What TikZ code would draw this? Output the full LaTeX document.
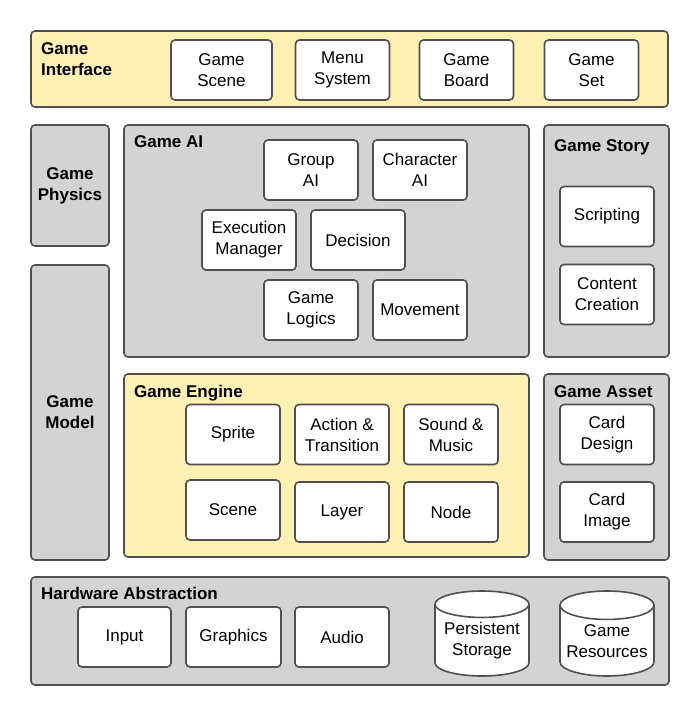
\documentclass[tikz,border=0pt]{standalone}
\usepackage{fontspec}
\setmainfont{Liberation Sans}
\usepackage{xcolor}
\usetikzlibrary{shapes.geometric, positioning}

\definecolor{panelgray}{HTML}{D3D3D3}
\definecolor{panelyellow}{HTML}{FFF0B3}
\definecolor{edgegray}{HTML}{4F4F4F}

\tikzset{
    panel/.style={draw=edgegray, line width=1.6pt, rounded corners=4pt, fill=panelgray, inner sep=0pt},
    ypanel/.style={panel, fill=panelyellow},
    item/.style={draw=edgegray, line width=1.6pt, rounded corners=4pt, fill=white,
        minimum width=94pt, minimum height=60pt, align=center, inner sep=0pt,
        font=\fontsize{17}{21}\selectfont},
    store/.style={cylinder, shape border rotate=90, aspect=0.35, draw=edgegray, line width=1.6pt,
        fill=white, minimum width=94pt, minimum height=85pt, align=center, inner sep=0pt,
        anchor=shape center, font=\fontsize{17}{21}\selectfont},
    title/.style={font=\bfseries\fontsize{17}{21}\selectfont, align=left, inner sep=0pt}
}

\begin{document}
\begin{tikzpicture}[x=1pt, y=-1pt]
        \useasboundingbox (0,0) rectangle (700,716);

        % ===================================================
        % 1. GAME INTERFACE (top strip)
        % ===================================================
        \node[ypanel, minimum width=637pt, minimum height=76pt] (gInterface) at (349.5, 69) {};
        \node[title, anchor=north west] at (41, 42) {Game\\Interface};

        \node[item, minimum width=101pt] (iScene) at (221.5, 70) {Game\\Scene};
        \node[item] (iMenu)  at (342.5, 70) {Menu\\System};
        \node[item] (iBoard) at (466.5, 70) {Game\\Board};
        \node[item] (iSet)   at (591.5, 70) {Game\\Set};

        % ===================================================
        % 2. LEFT COLUMN: PHYSICS & MODEL
        % ===================================================
        \node[panel, minimum width=78pt, minimum height=121pt, title, align=center] (gPhysics) at (70, 185.5) {Game\\Physics};
        \node[panel, minimum width=78pt, minimum height=295pt, title, align=center] (gModel) at (70, 412.5) {Game\\Model};

        % ===================================================
        % 3. GAME AI
        % ===================================================
        \node[panel, minimum width=405pt, minimum height=232pt] (gAI) at (326.5, 241) {};
        \node[title, anchor=north west] at (134, 135) {Game AI};

        \node[item] (aGroup) at (311, 170) {Group\\AI};
        \node[item] (aChar)  at (420, 170) {Character\\AI};
        \node[item] (aExec)  at (249, 240) {Execution\\Manager};
        \node[item] (aDecis) at (358, 240) {Decision};
        \node[item] (aLogic) at (311, 310) {Game\\Logics};
        \node[item] (aMove)  at (420, 310) {Movement};

        % ===================================================
        % 4. GAME STORY
        % ===================================================
        \node[panel, minimum width=125pt, minimum height=232pt] (gStory) at (606.5, 241) {};
        \node[title, anchor=north west] at (554, 139) {Game Story};

        \node[item] (sScript)  at (607, 216.5) {Scripting};
        \node[item] (sContent) at (607, 294.5) {Content\\Creation};

        % ===================================================
        % 5. GAME ENGINE
        % ===================================================
        \node[ypanel, minimum width=405pt, minimum height=183pt] (gEngine) at (326.5, 465.5) {};
        \node[title, anchor=north west] at (134, 385) {Game Engine};

        \node[item] (eSprite) at (233, 434.5) {Sprite};
        \node[item] (eAction) at (342, 434.5) {Action \&\\Transition};
        \node[item] (eSound)  at (451, 434.5) {Sound \&\\Music};
        \node[item] (eScene)  at (233, 510) {Scene};
        \node[item] (eLayer)  at (342, 512) {Layer};
        \node[item] (eNode)   at (451, 512) {Node};

        % ===================================================
        % 6. GAME ASSET
        % ===================================================
        \node[panel, minimum width=125pt, minimum height=186pt] (gAsset) at (606.5, 467) {};
        \node[title, anchor=north west] at (554, 385) {Game Asset};

        \node[item] (cDesign) at (607, 434.5) {Card\\Design};
        \node[item] (cImage)  at (607, 512) {Card\\Image};

        % ===================================================
        % 7. HARDWARE ABSTRACTION (bottom strip)
        % ===================================================
        \node[panel, minimum width=638pt, minimum height=108pt] (gHardware) at (350, 631) {};
        \node[title, anchor=north west] at (41, 587) {Hardware Abstraction};

        \node[item, minimum width=93pt] (hInput)  at (124.5, 637) {Input};
        \node[item, minimum width=95pt] (hGraph)  at (233.5, 637) {Graphics};
        \node[item] (hAudio) at (342, 637) {Audio};

        \node[store] (hStore) at (482, 633.5) {Persistent\\Storage};
        \node[store] (hRes)   at (607, 633.5) {Game\\Resources};

    \end{tikzpicture}
\end{document}
